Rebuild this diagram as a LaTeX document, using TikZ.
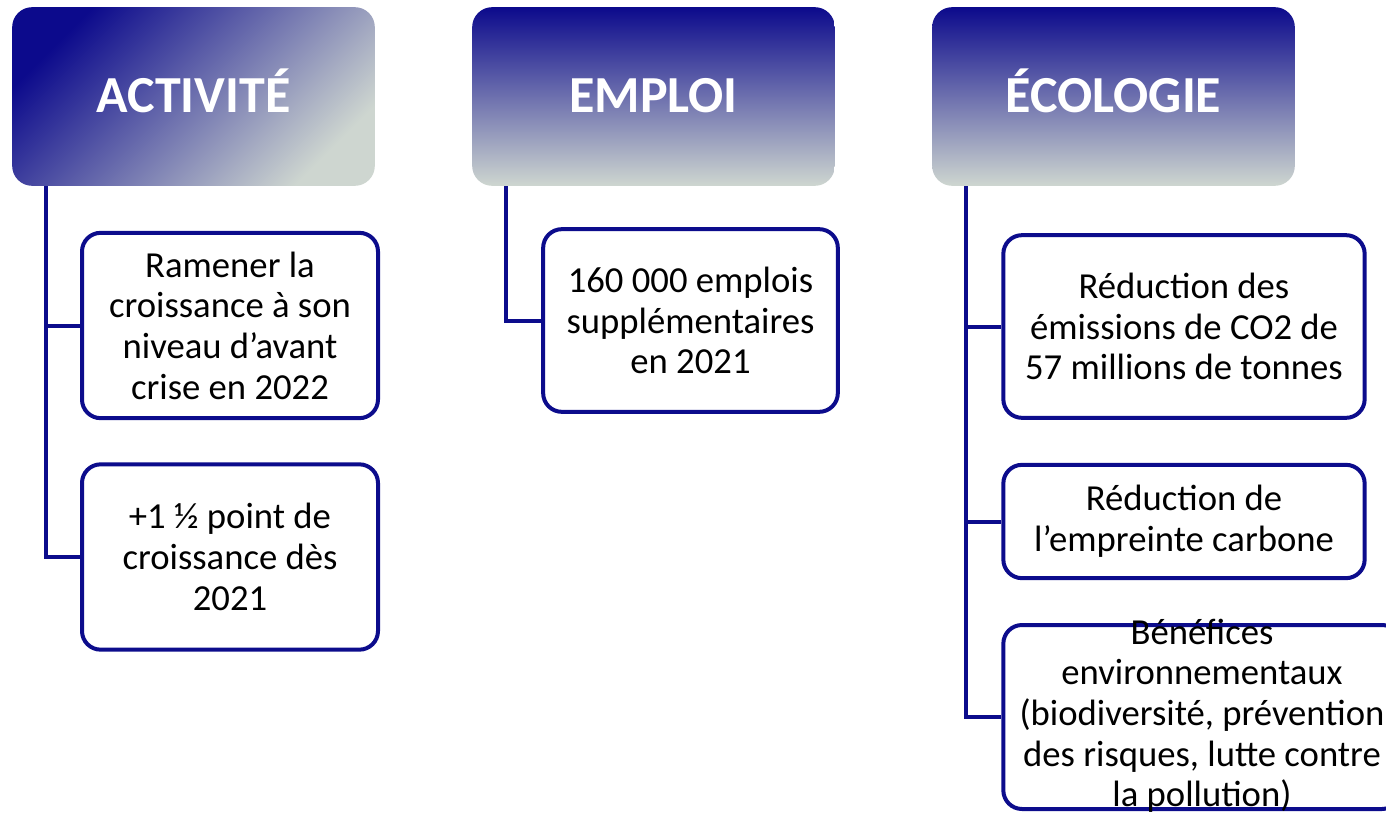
\documentclass[tikz,border=0pt]{standalone}
\usepackage{fontspec}
\setmainfont{Carlito}
\definecolor{navyline}{RGB}{12,12,140}
\definecolor{headtop}{RGB}{12,10,140}
\definecolor{headbot}{RGB}{206,214,208}
\begin{document}
\begin{tikzpicture}[x=0.75pt,y=-0.75pt,
		head/.style={rounded corners=15pt,top color=headtop,bottom color=headbot,text=white,font=\fontsize{39}{44}\selectfont\bfseries,minimum width=272pt,minimum height=134pt,inner sep=0pt,text height=24pt,text depth=0pt},
		box/.style={draw=navyline,line width=3pt,rounded corners=14pt,fill=white,align=center,font=\fontsize{27.5}{30.5}\selectfont,inner sep=0pt},
		link/.style={draw=navyline,line width=3pt}]
			\clip (0,0) rectangle (1386,814);
			% headers
			\node[head,shading angle=45] (H1) at (193.5,96.5) {ACTIVITÉ};
			\node[head] (H2) at (653.5,96.5) {EMPLOI};
			\node[head] (H3) at (1113.5,96.5) {ÉCOLOGIE};
			% boxes
			\node[box,minimum width=222pt,minimum height=139pt] (A1) at (230,325.5) {Ramener la\\croissance à son\\niveau d’avant\\crise en 2022};
			\node[box,minimum width=222pt,minimum height=139pt] (A2) at (230,557) {+1 ½ point de\\croissance dès\\2021};
			\node[box,minimum width=221pt,minimum height=137pt] (M1) at (690.5,320.5) {160 000 emplois\\supplémentaires\\en 2021};
			\node[box,minimum width=271pt,minimum height=137pt] (E1) at (1184,326.5) {Réduction des\\émissions de CO2 de\\57 millions de tonnes};
			\node[box,minimum width=271pt,minimum height=85pt] (E2) at (1184,521.5) {Réduction de\\l’empreinte carbone};
			\node[box,minimum width=298pt,minimum height=138pt] (E3) at (1202,717) {};
			\node[align=center,font=\fontsize{27.5}{30.5}\selectfont,inner sep=0pt] (E3text) at ([yshift=1pt]E3.center) {Bénéfices\\environnementaux\\(biodiversité, prévention\\des risques, lutte contre\\la pollution)};
			% connectors
			\coordinate (a) at ([xshift=25.5pt]H1.south west);
			\coordinate (m) at ([xshift=25.5pt]H2.south west);
			\coordinate (e) at ([xshift=25.5pt]H3.south west);
			\draw[link] (a) |- (A2.west);
			\draw[link] (a |- A1.west) -- (A1.west);
			\draw[link] (m) |- (M1.west);
			\draw[link] (e) |- (E3.west);
			\draw[link] (e |- E1.west) -- (E1.west);
			\draw[link] (e |- E2.west) -- (E2.west);
		\end{tikzpicture}
\end{document}
